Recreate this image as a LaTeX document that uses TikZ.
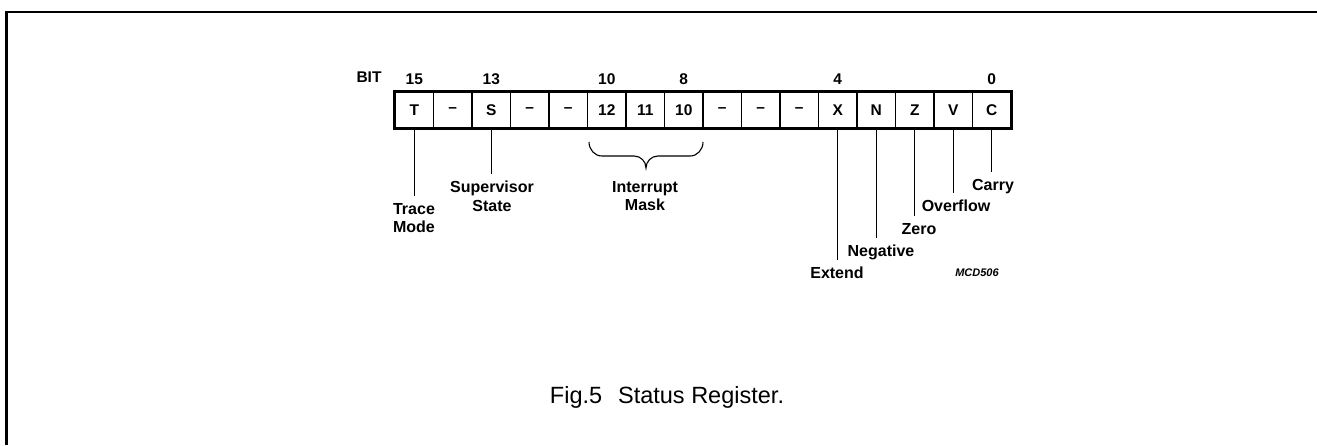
\documentclass[tikz,border=0pt]{standalone}
\usepackage{fontspec}
\setmainfont{Liberation Sans}
\usetikzlibrary{positioning}
\begin{document}
\begin{tikzpicture}[x=1pt,y=-1pt,
  cell/.style={draw,line width=1.1pt,minimum width=38.5pt,minimum height=36pt,inner sep=0pt,font=\fontsize{15.5}{18}\selectfont\bfseries},
  num/.style={font=\fontsize{15.5}{18}\selectfont\bfseries,inner sep=0pt},
  lbl/.style={font=\fontsize{16}{18.5}\selectfont\bfseries,align=center,inner sep=0pt,anchor=north},
  lead/.style={line width=1.1pt,shorten >=7pt},
  brc/.style={line width=1.1pt}]
\useasboundingbox (0,0) rectangle (1317,445);
\draw[line width=2.5pt] (6.5,445) -- (6.5,12) -- (1317,12);
\foreach \t [count=\i from 0] in {T,--,S,--,--,12,11,10,--,--,--,X,N,Z,V,C} {
  \pgfmathtruncatemacro\b{15-\i}
  \node[cell] (b\b) at (395+19.25+38.5*\i,110) {\t};
}
\draw[line width=2pt] (b15.north west) rectangle (b0.south east);
% bit numbers
\node[num] (bit) at (369,77) {BIT};
\node[num,above=7pt of b15] (n15) {15};
\node[num,above=7pt of b13] (n13) {13};
\node[num,above=7pt of b10] (n10) {10};
\node[num,above=7pt of b8] (n8) {8};
\node[num,above=7pt of b4] (n4) {4};
\node[num,above=7pt of b0] (n0) {0};
% labels
\node[lbl] (trace) at (414,203) {Trace\\Mode};
\node[lbl] (super) at (492,181) {Supervisor\\State};
\node[lbl] (intr) at (645,181) {Interrupt\\Mask};
\node[lbl] (extend) at (837,267) {Extend};
\node[lbl] (negative) at (881,245) {Negative};
\node[lbl] (zero) at (919,223) {Zero};
\node[lbl] (overflow) at (956,200) {Overflow};
\node[lbl] (carry) at (993,179) {Carry};
\draw[lead] (b15.south) -- (b15.south |- trace.north);
\draw[lead] (b13.south) -- (b13.south |- super.north);
\draw[lead] (b4.south) -- (b4.south |- extend.north);
\draw[lead] (b3.south) -- (b3.south |- negative.north);
\draw[lead] (b2.south) -- (b2.south |- zero.north);
\draw[lead] (b1.south) -- (b1.south |- overflow.north);
\draw[lead] (b0.south) -- (b0.south |- carry.north);
% brace
\coordinate (bl) at (589,142);
\coordinate (br) at (703,142);
\coordinate (tip) at (646,168);
\draw[brc] (bl) to[out=-90,in=180] (602,156) -- (634,156) to[out=0,in=90] (tip)
  to[out=90,in=180] (658,156) -- (690,156) to[out=0,in=-90] (br);
\node[font=\fontsize{11}{13}\selectfont\bfseries\itshape,inner sep=0pt] (mcd) at (977,273) {MCD506};
\node[font=\fontsize{23.5}{27}\selectfont,inner sep=0pt] (cap) at (667,397) {Fig.5\hspace{0.4em} Status Register.};
\end{tikzpicture}
\end{document}
